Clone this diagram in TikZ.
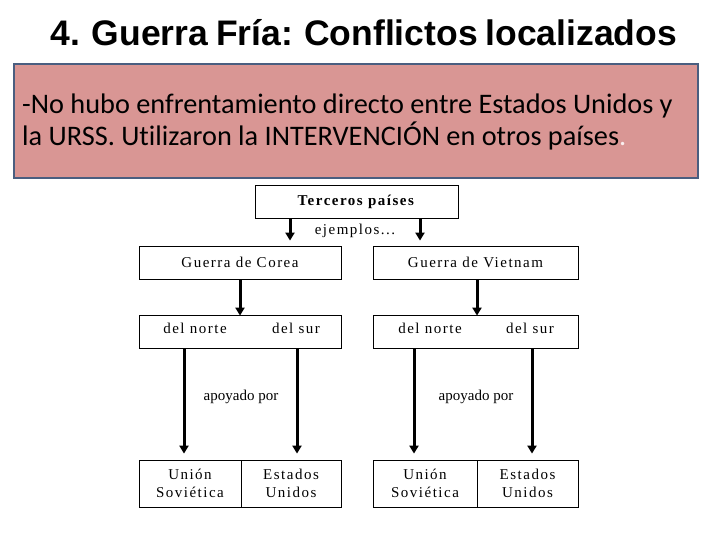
\documentclass[tikz,border=0pt]{standalone}
\usepackage{fontspec}
\setmainfont{Liberation Serif}
\newfontfamily\titlefont[WordSpace=0.8]{Liberation Sans}
\newfontfamily\calfont[Ligatures={NoCommon}]{Carlito}
\newfontfamily\diagfont[LetterSpace=10]{Liberation Serif}
\usetikzlibrary{arrows.meta}
\definecolor{pinkfill}{HTML}{D99694}
\definecolor{pinkborder}{HTML}{4A5E80}
\tikzset{
  box/.style={draw=black, line width=0.8pt, minimum height=33pt, inner sep=0pt, font=\diagfont\fontsize{15}{18}\selectfont},
  arr/.style={line width=3pt, -{Triangle[width=9pt,length=8pt]}},
  lbl/.style={font=\diagfont\fontsize{15}{18}\selectfont, inner sep=0pt},
  plainlbl/.style={font=\fontsize{15}{18}\selectfont, inner sep=0pt},
}
\begin{document}
\begin{tikzpicture}[x=1pt,y=-1pt]
\useasboundingbox (0,0) rectangle (720,540);
\fill[white] (0,0) rectangle (720,540);
% title
\node (title) at (364,33) {\titlefont\bfseries\fontsize{35.5}{38}\selectfont 4. Guerra Fría: Conflictos localizados};
% pink box
\node[draw=pinkborder, line width=2.2pt, fill=pinkfill, minimum width=684pt, minimum height=114pt, inner sep=0pt] (pbox) at (356,121) {};
\node[anchor=west, align=left, inner sep=0pt, font=\calfont\fontsize{28.3}{32}\selectfont] (ptext) at (22,122)
  {-No hubo enfrentamiento directo entre Estados Unidos y\\la URSS. Utilizaron la INTERVENCIÓN en otros países\textcolor{white!85!pinkfill}{.}};
% diagram
\node[box, minimum width=203pt] (terc) at (356.5,201.5) {\textbf{Terceros países}};
\node[box, minimum width=202pt] (corea) at (240,262.5) {Guerra de Corea};
\node[box, minimum width=205pt] (viet) at (475.5,262.5) {Guerra de Vietnam};
\begin{scope}
\clip (300,220) rectangle (410,238.5);
\node[lbl, anchor=north] (ej) at (355,224) {ejemplos...};
\end{scope}
\node[box, minimum width=202pt] (ns1) at (240,331.5) {};
\node[box, minimum width=205pt] (ns2) at (475.5,331.5) {};
\node[lbl] (n1) at (195,328) {del norte};
\node[lbl] (s1) at (296,328) {del sur};
\node[lbl] (n2) at (430,328) {del norte};
\node[lbl] (s2) at (530,328) {del sur};
\node[plainlbl] (ap1) at (241,397) {apoyado por};
\node[plainlbl] (ap2) at (476,397) {apoyado por};
% bottom boxes
\node[box, minimum width=102pt, minimum height=47pt, align=center, font=\diagfont\fontsize{15}{17.5}\selectfont] (us1) at (190,483.5) {Unión\\Soviética};
\node[box, minimum width=100pt, minimum height=47pt, align=center, font=\diagfont\fontsize{15}{17.5}\selectfont] (eu1) at (291,483.5) {Estados\\Unidos};
\node[box, minimum width=104pt, minimum height=47pt, align=center, font=\diagfont\fontsize{15}{17.5}\selectfont] (us2) at (425,483.5) {Unión\\Soviética};
\node[box, minimum width=101pt, minimum height=47pt, align=center, font=\diagfont\fontsize{15}{17.5}\selectfont] (eu2) at (527.5,483.5) {Estados\\Unidos};
% arrows
\draw[arr] ([xshift=-66.5pt]terc.south) -- ([xshift=-66.5pt,yshift=5pt]terc.south |- corea.north);
\draw[arr] ([xshift=63.5pt]terc.south) -- ([xshift=63.5pt,yshift=5pt]terc.south |- corea.north);
\draw[arr] (corea.south) -- ([yshift=-1pt]ns1.north);
\draw[arr] ([xshift=1.5pt]viet.south) -- ([xshift=1.5pt,yshift=-1pt]viet.south |- ns2.north);
\draw[arr] ([xshift=-56pt]ns1.south) -- ([xshift=-56pt,yshift=6pt]ns1.south |- us1.north);
\draw[arr] ([xshift=57pt]ns1.south) -- ([xshift=57pt,yshift=6pt]ns1.south |- us1.north);
\draw[arr] ([xshift=-61.5pt]ns2.south) -- ([xshift=-61.5pt,yshift=6pt]ns2.south |- us2.north);
\draw[arr] ([xshift=56.5pt]ns2.south) -- ([xshift=56.5pt,yshift=6pt]ns2.south |- us2.north);
\end{tikzpicture}
\end{document}
